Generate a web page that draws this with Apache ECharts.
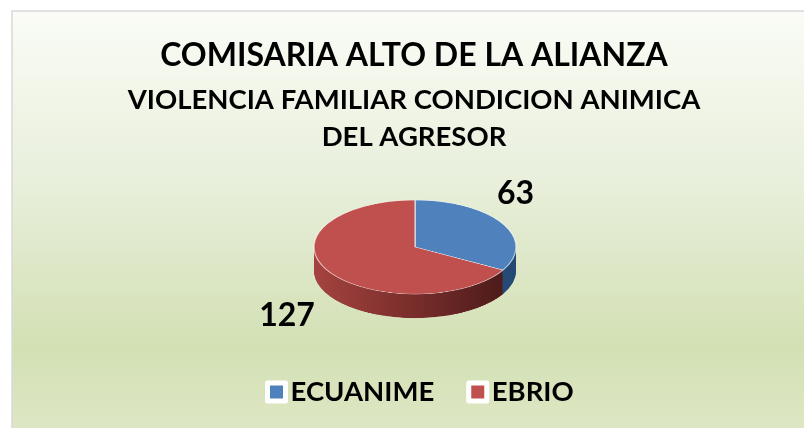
<!DOCTYPE html>
<html>
<head>
<meta charset="utf-8">
<script src="https://cdn.jsdelivr.net/npm/echarts/dist/echarts.min.js"></script>
<style>
html, body { margin: 0; padding: 0; background: #fff; }
#wrap { position: relative; width: 804px; height: 428px; overflow: hidden; }
#main { position: absolute; left: 0; top: 0; width: 804px; height: 428px; }
/* el pastel se aplasta en vertical para simular la vista 3D */
#pie { position: absolute; left: 0; top: 0; width: 804px; height: 920px;
       transform: scaleY(0.46535); transform-origin: 0 0; pointer-events: none; }
</style>
</head>
<body>
<div id="wrap">
  <div id="main"></div>
  <div id="pie"></div>
</div>
<script>
// datos
var categories = ['ECUANIME', 'EBRIO'];
var values = [63, 127];
var titleLines = ['COMISARIA ALTO DE LA ALIANZA', 'VIOLENCIA FAMILIAR CONDICION ANIMICA', 'DEL AGRESOR'];

var topColors = ['#4f81bd', '#c0504d'];
var FONT = 'Lato';
var K = 0.46535;          // ry / rx
var CX = 415, CY = 247, R = 101, DEPTH = 24;

var sideColors = [
	'#264a75',
	{ type: 'linear', x: 314, y: 0, x2: 516, y2: 0, global: true,
	  colorStops: [{ offset: 0, color: '#a5433f' }, { offset: 0.5, color: '#782d2b' }, { offset: 1, color: '#461918' }] }
];

function pieData(colors) {
	return categories.map(function (n, i) {
		return { name: n, value: values[i], itemStyle: { color: colors[i] } };
	});
}

// ===== pastel (capas apiladas = lateral) =====
var pieChart = echarts.init(document.getElementById('pie'));
var layers = [];
var N = 26;
for (var i = 0; i <= N; i++) {
	var isTop = i === N;
	layers.push({
		type: 'pie',
		silent: true,
		startAngle: 90,
		clockwise: true,
		center: [CX, (CY + DEPTH * (1 - i / N)) / K],
		radius: R,
		label: { show: false },
		labelLine: { show: false },
		itemStyle: isTop ? { borderColor: 'rgba(255,255,255,0.65)', borderWidth: 1.3 } : { borderWidth: 0 },
		data: pieData(isTop ? topColors : sideColors)
	});
}
pieChart.setOption({ animation: false, series: layers });

// ===== titulo, leyenda, etiquetas =====
var main = echarts.init(document.getElementById('main'));
var titleTops = [40, 86, 123];
var titleSizes = [32, 27.5, 27.5];
// ajuste de las etiquetas de valor (largo de linea / distancia)
var labelLen = [4, 36];
var labelDist = [-8.6, -18.2];

main.setOption({
	animation: false,
	graphic: [{
		type: 'rect',
		silent: true,
		z: -10,
		shape: { x: 12, y: 11, width: 810, height: 430 },
		style: {
			fill: new echarts.graphic.LinearGradient(0, 0, 0, 1, [
				{ offset: 0, color: '#fafcf6' },
				{ offset: 0.4, color: '#e8efdb' },
				{ offset: 0.78, color: '#d3e0b4' },
				{ offset: 1, color: '#dfe8c7' }
			]),
			stroke: '#d9d9d9',
			lineWidth: 1.5
		}
	}],
	title: titleLines.map(function (t, i) {
		return {
			text: t,
			left: 414,
			top: titleTops[i],
			textAlign: 'center',
			padding: 0,
			textStyle: { fontFamily: FONT, fontSize: titleSizes[i], fontWeight: 'bold', color: '#000' }
		};
	}),
	legend: {
		left: 265,
		top: 378,
		padding: 0,
		itemWidth: 18,
		itemHeight: 18,
		itemGap: 32,
		icon: 'rect',
		selectedMode: false,
		textStyle: { fontFamily: FONT, fontSize: 27.5, fontWeight: 'bold', color: '#000' },
		data: categories.map(function (n, i) {
			return { name: n, itemStyle: { color: topColors[i], borderColor: '#fff', borderWidth: 5, opacity: 1 } };
		})
	},
	series: [{
		type: 'pie',
		silent: true,
		startAngle: 90,
		clockwise: true,
		center: [CX, CY],
		radius: R,
		avoidLabelOverlap: false,
		itemStyle: { color: 'rgba(0,0,0,0)', borderWidth: 0 },
		label: {
			show: true,
			position: 'outside',
			fontFamily: FONT,
			fontSize: 32,
			fontWeight: 'bold',
			color: '#000',
			formatter: '{c}'
		},
		labelLine: { show: false, length2: 0 },
		data: categories.map(function (n, i) {
			return {
				name: n,
				value: values[i],
				label: { distanceToLabelLine: labelDist[i] },
				labelLine: { show: false, length: labelLen[i], length2: 0 }
			};
		})
	}]
});
</script>
</body>
</html>
